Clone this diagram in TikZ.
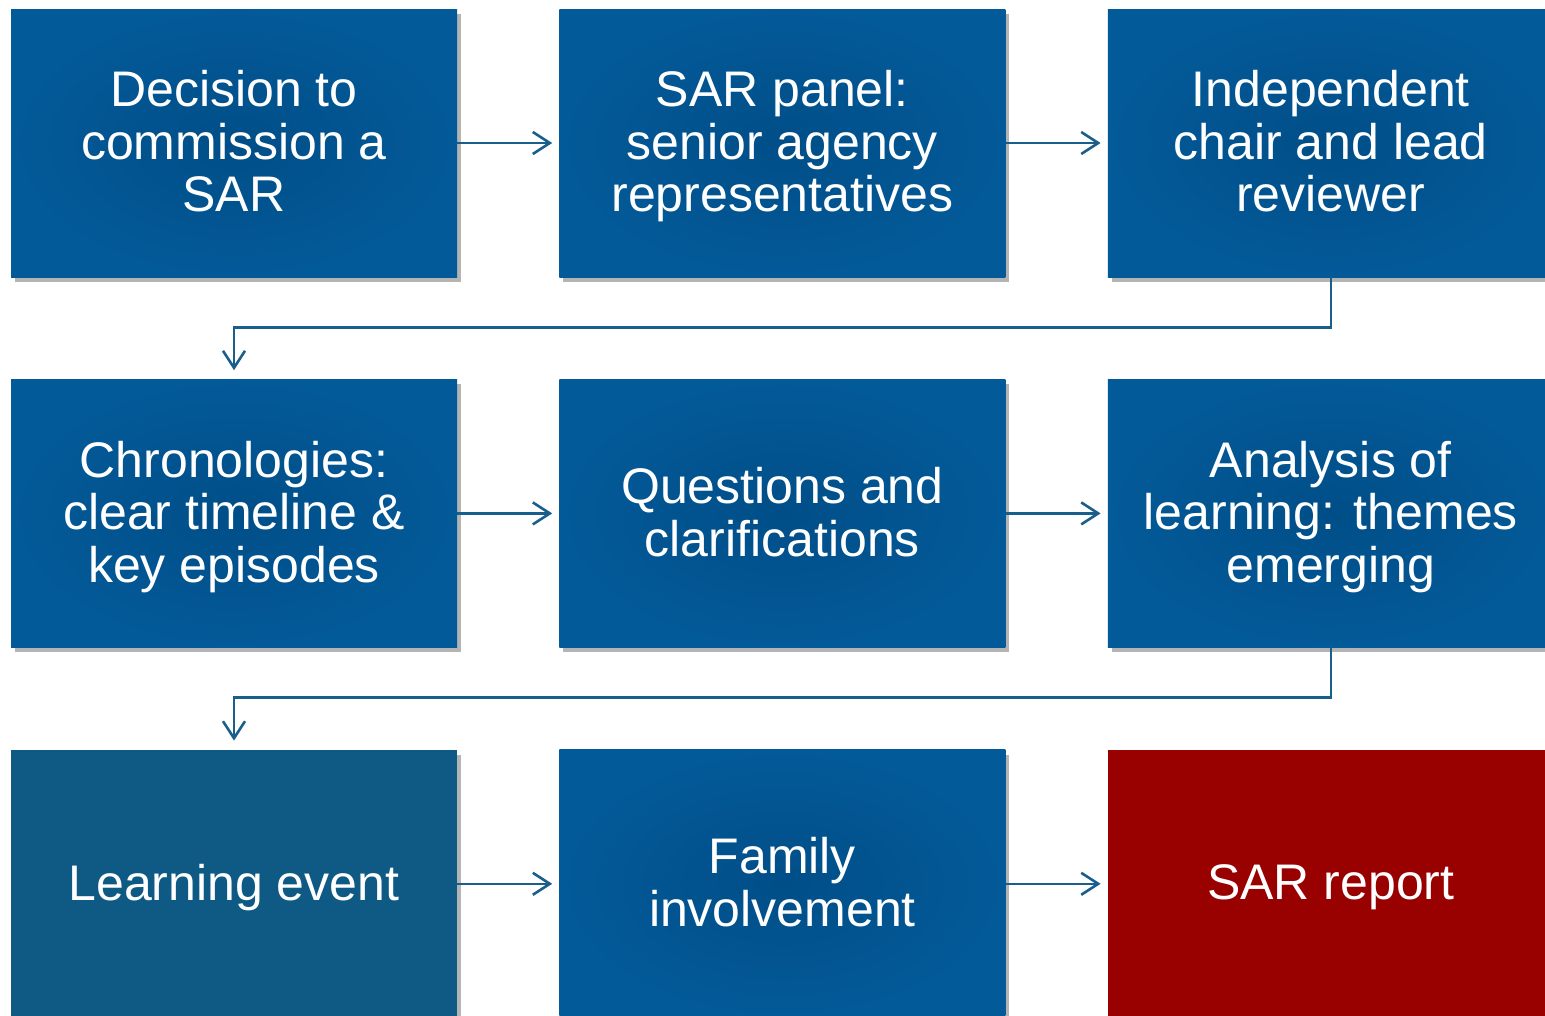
\documentclass[tikz,border=0pt]{standalone}
\usepackage{fontspec}
\setmainfont{Liberation Sans}
\usetikzlibrary{positioning,arrows.meta,shadows}
\definecolor{boxouter}{HTML}{035A98}
\definecolor{boxinner}{HTML}{004E88}
\definecolor{flatblue}{HTML}{0F5A85}
\definecolor{reportred}{HTML}{990000}
\definecolor{linkblue}{HTML}{1A5E8C}
\tikzset{
  basebox/.style={rectangle, minimum width=446pt, minimum height=268pt, inner sep=0pt,
    text=white, align=center, font=\fontsize{50}{52.5}\selectfont, text depth=3.5pt,
    drop shadow={shadow xshift=4pt, shadow yshift=-5pt, opacity=.45, fill=black!65}},
  stage/.style={basebox, shading=radial, inner color=boxinner, outer color=boxouter},
  flatstage/.style={basebox, fill=flatblue},
  redstage/.style={basebox, fill=reportred},
  link/.style={draw=linkblue, line width=2.6pt, -{Straight Barb[length=17pt, width=22pt, line width=2.6pt]}},
}
\begin{document}
\begin{tikzpicture}[node distance=102pt]
\useasboundingbox (0,0) rectangle (1545pt,-1015pt);
\clip (0,0) rectangle (1545pt,-1015pt);
% row 1
\node[stage] (decision) at (234pt,-143pt) {Decision to\\commission a\\SAR};
\node[stage, right=of decision] (panel) {SAR panel:\\senior agency\\representatives};
\node[stage, right=of panel] (chair) {Independent\\chair and lead\\reviewer};
% row 2
\node[stage, below=of decision] (chrono) {Chronologies:\\clear timeline \&\\key episodes};
\node[stage, right=of chrono] (questions) {Questions and\\clarifications};
\node[stage, right=of questions] (analysis) {Analysis of\\learning: themes\\emerging};
% row 3
\node[flatstage, below=of chrono] (event) {Learning event};
\node[stage, right=of event] (family) {Family\\involvement};
\node[redstage, right=of family] (report) {SAR report};
% links
\draw[link, shorten >=7pt] (decision) -- (panel);
\draw[link, shorten >=7pt] (panel) -- (chair);
\draw[link, shorten >=9pt] (chair.south) -- ++(0,-50pt) -| (chrono.north);
\draw[link, shorten >=7pt] (chrono) -- (questions);
\draw[link, shorten >=7pt] (questions) -- (analysis);
\draw[link, shorten >=9pt] (analysis.south) -- ++(0,-50pt) -| (event.north);
\draw[link, shorten >=7pt] (event) -- (family);
\draw[link, shorten >=7pt] (family) -- (report);
\end{tikzpicture}
\end{document}
